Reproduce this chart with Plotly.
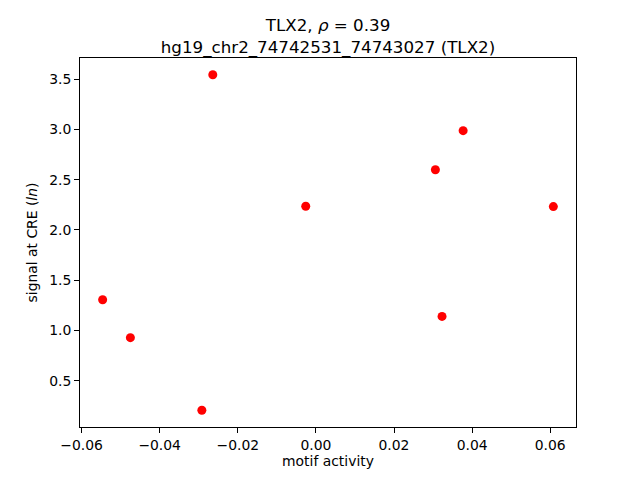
import plotly.graph_objects as go

motif_activity = [-0.0546, -0.0475, -0.0292, -0.0264, -0.0026, 0.0306, 0.0323, 0.0377, 0.0608]
signal = [1.305, 0.928, 0.206, 3.543, 2.235, 2.598, 1.139, 2.987, 2.232]

x_ticks = [-0.06, -0.04, -0.02, 0.0, 0.02, 0.04, 0.06]
x_ticklabels = ["\u22120.06", "\u22120.04", "\u22120.02", "0.00", "0.02", "0.04", "0.06"]
y_ticks = [0.5, 1.0, 1.5, 2.0, 2.5, 3.0, 3.5]
y_ticklabels = ["0.5", "1.0", "1.5", "2.0", "2.5", "3.0", "3.5"]

fig = go.Figure()
fig.add_trace(go.Scatter(
    x=motif_activity, y=signal, mode="markers",
    marker=dict(color="#ff0000", size=9, line=dict(width=0)),
    showlegend=False,
))

font = dict(family="DejaVu Sans", size=13.9, color="black")
fig.update_layout(
    width=632, height=472,
    margin=dict(l=72, r=64, t=49.6, b=52.8, autoexpand=False),
    paper_bgcolor="white", plot_bgcolor="white",
    font=font,
    title=dict(
        text="TLX2, <i>\u03c1</i> = 0.39<br>hg19_chr2_74742531_74743027 (TLX2)",
        x=0.5, xref="paper", xanchor="center",
        y=1, yref="paper", yanchor="bottom", pad=dict(b=27),
        font=dict(family="DejaVu Sans", size=16.7, color="black"),
        automargin=False,
    ),
    xaxis=dict(
        range=[-0.0604, 0.0666], tickvals=x_ticks, ticktext=x_ticklabels,
        showgrid=False, zeroline=False, showline=True, linecolor="black", linewidth=1,
        mirror=True, ticks="outside", ticklen=5, tickcolor="black",
        title=dict(text="motif activity", standoff=4, font=font),
        tickfont=font, automargin=False,
    ),
    yaxis=dict(
        range=[0.039, 3.710], tickvals=y_ticks, ticktext=y_ticklabels,
        showgrid=False, zeroline=False, showline=True, linecolor="black", linewidth=1,
        mirror=True, ticks="outside", ticklen=5, tickcolor="black",
        title=dict(text="signal at CRE (<i>ln</i>)", standoff=8, font=font),
        tickfont=font, automargin=False,
    ),
)

fig.write_html("out.html")
